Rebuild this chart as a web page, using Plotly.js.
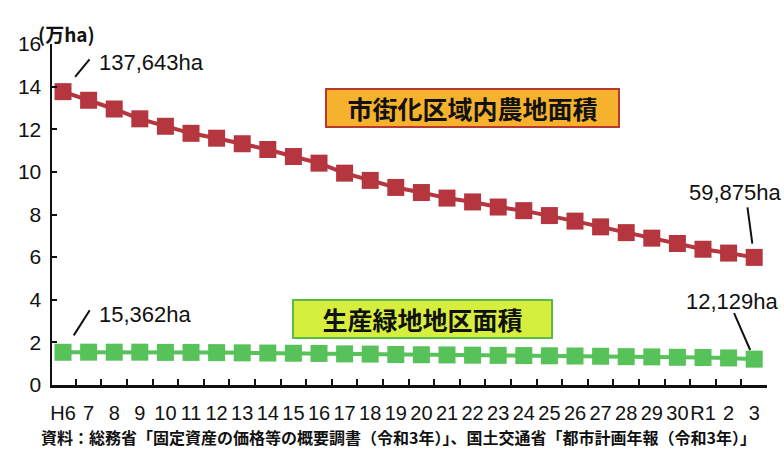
<!DOCTYPE html>
<html>
<head>
<meta charset="utf-8">
<script src="https://cdn.plot.ly/plotly-3.0.1.min.js"></script>
<style>html,body{margin:0;padding:0;background:#fff;}#chart{width:784px;height:450px;}</style>
</head>
<body>
<div id="chart"></div>
<script>
const categories = ["H6","7","8","9","10","11","12","13","14","15","16","17","18","19","20","21","22","23","24","25","26","27","28","29","30","R1","2","3"];
const urbanFarmland = [13.7643, 13.36, 12.95, 12.49, 12.14, 11.81, 11.58, 11.32, 11.05, 10.72, 10.41, 9.94, 9.60, 9.27, 9.03, 8.77, 8.59, 8.35, 8.18, 7.95, 7.69, 7.42, 7.15, 6.89, 6.64, 6.37, 6.19, 5.9875];
const productiveGreen = [1.5362, 1.54, 1.54, 1.54, 1.53, 1.53, 1.52, 1.51, 1.50, 1.49, 1.48, 1.46, 1.45, 1.43, 1.42, 1.41, 1.40, 1.39, 1.38, 1.37, 1.36, 1.35, 1.33, 1.32, 1.30, 1.29, 1.27, 1.2129];
const urbanName = "市街化区域内農地面積";
const greenName = "生産緑地地区面積";
const firstUrbanLabel = "137,643ha";
const lastUrbanLabel = "59,875ha";
const firstGreenLabel = "15,362ha";
const lastGreenLabel = "12,129ha";
const unitLabel = "(万ha)";
const sourceText = "資料：総務省「固定資産の価格等の概要調書（令和3年）」、国土交通省「都市計画年報（令和3年）」";

const numFont = "Liberation Sans Narrow, Arial Narrow, Liberation Sans, Arial, sans-serif";
const jpFont = "Noto Sans CJK JP, Noto Sans, sans-serif";
const RED = "#b5363f";
const GREEN = "#57c15a";

const first = 0;
const last = categories.length - 1;

const traces = [
  {x: categories, y: urbanFarmland, type: "scatter", mode: "lines+markers",
   line: {color: RED, width: 4}, marker: {symbol: "square", size: 17, color: RED}, hoverinfo: "skip", cliponaxis: false},
  {x: categories, y: productiveGreen, type: "scatter", mode: "lines+markers",
   line: {color: GREEN, width: 4}, marker: {symbol: "square", size: 17, color: GREEN}, hoverinfo: "skip", cliponaxis: false}
];

// x given as category index (numeric) so that category names like "3" are not misread
function leader(xi, yv, ax, ay, standoff) {
  return {x: xi, y: yv, xref: "x", yref: "y", text: " ", font: {size: 1},
          showarrow: true, arrowhead: 0, arrowwidth: 2, arrowcolor: "#111",
          ax: ax, ay: ay, standoff: standoff};
}
function label(xi, yv, txt, anchor, xs, ys) {
  return {x: xi, y: yv, xref: "x", yref: "y", text: txt, showarrow: false,
          xanchor: anchor, yanchor: "middle", xshift: xs, yshift: ys,
          font: {family: numFont, size: 22, color: "#111"}};
}

const annotations = [
  leader(first, urbanFarmland[first], 28, -34, 19),
  label(first, urbanFarmland[first], firstUrbanLabel, "left", 34, 29),
  leader(last, urbanFarmland[last], -7, -52, 14),
  label(last, urbanFarmland[last], lastUrbanLabel, "right", 30, 65),
  leader(first, productiveGreen[first], 28, -44, 20),
  label(first, productiveGreen[first], firstGreenLabel, "left", 34, 38),
  leader(last, productiveGreen[last], -21, -48, 10),
  label(last, productiveGreen[last], lastGreenLabel, "right", 27, 58),
  {xref: "paper", yref: "paper", x: 0.588, y: 0.812, xanchor: "center", yanchor: "middle",
   text: urbanName, showarrow: false, bgcolor: "#f6b22c", bordercolor: "#b8392f", borderwidth: 2,
   width: 291, height: 36, borderpad: 0,
   font: {family: jpFont, size: 25, color: "#111", weight: "bold"}},
  {xref: "paper", yref: "paper", x: 0.518, y: 0.194, xanchor: "center", yanchor: "middle",
   text: greenName, showarrow: false, bgcolor: "#d6ee3e", bordercolor: "#5cbb46", borderwidth: 2,
   width: 257, height: 36, borderpad: 0,
   font: {family: jpFont, size: 25, color: "#111", weight: "bold"}},
  {xref: "paper", yref: "paper", x: -0.0224, y: 1.03, xanchor: "left", yanchor: "middle",
   text: unitLabel, showarrow: false, font: {family: jpFont, size: 19, color: "#111", weight: "bold"}},
  {xref: "paper", yref: "paper", x: 0.485, y: -0.152, xanchor: "center", yanchor: "middle",
   text: sourceText, showarrow: false, font: {family: jpFont, size: 16, color: "#111", weight: "bold"}}
];

const layout = {
  width: 784, height: 450,
  margin: {l: 52, r: 17, t: 44, b: 65},
  paper_bgcolor: "#ffffff", plot_bgcolor: "#ffffff",
  showlegend: false,
  xaxis: {type: "category", categoryorder: "array", categoryarray: categories,
          range: [-0.43, 27.5], showline: true, linecolor: "#111", linewidth: 2.5,
          ticks: "inside", tickson: "boundaries", ticklen: 6, tickwidth: 2, tickcolor: "#111",
          tickangle: 0, tickfont: {family: numFont, size: 20, color: "#111"}, ticklabelstandoff: 8,
          showgrid: false, zeroline: false, fixedrange: true},
  yaxis: {range: [0, 16], dtick: 2, tick0: 0, showline: true, linecolor: "#111", linewidth: 2.5,
          ticks: "inside", ticklen: 5, tickwidth: 2, tickcolor: "#111",
          tickfont: {family: numFont, size: 21, color: "#111"}, ticklabelstandoff: 4,
          showgrid: false, zeroline: false, fixedrange: true},
  annotations: annotations
};

Plotly.newPlot("chart", traces, layout, {staticPlot: true, displayModeBar: false});
</script>
</body>
</html>
